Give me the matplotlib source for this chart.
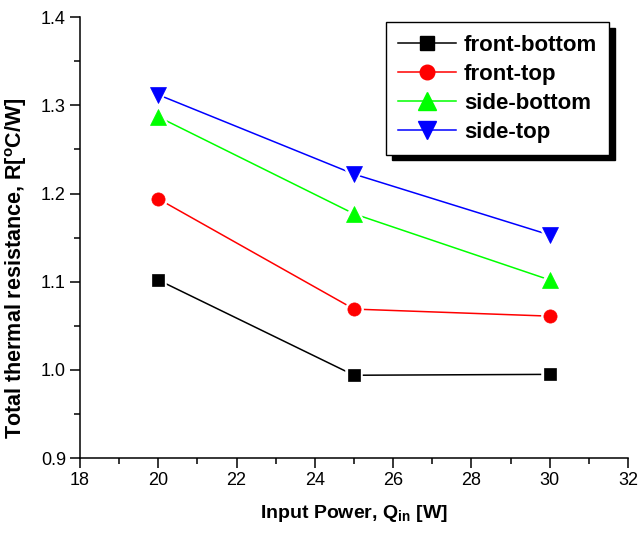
import numpy as np
from matplotlib import pyplot as plt

plt.rcParams['font.family'] = ['Liberation Sans', 'DejaVu Sans']

# input power [W]
power = [20, 25, 30]

# total thermal resistance [C/W]
front_bottom = [1.102, 0.994, 0.995]
front_top = [1.194, 1.069, 1.061]
side_bottom = [1.287, 1.177, 1.102]
side_top = [1.312, 1.222, 1.153]

names = ['front-bottom', 'front-top', 'side-bottom', 'side-top']
colors = ['black', 'red', '#00ff00', 'blue']
markers = ['s', 'o', '^', 'v']
sizes = [9, 9.5, 11.5, 11.5]

fig = plt.figure(figsize=(6.39, 5.34), dpi=100)
ax = fig.add_axes([0.125, 0.142, 0.858, 0.826])

handles = []
for y, name, c, m, ms in zip([front_bottom, front_top, side_bottom, side_top],
                              names, colors, markers, sizes):
    ax.plot(power, y, color=c, lw=1.1, zorder=2)
    # white halo so the line stops short of the marker, like Origin does
    ax.plot(power, y, ls='none', marker=m, ms=ms, mfc='white', mec='white',
            mew=4, zorder=3)
    ax.plot(power, y, ls='none', marker=m, ms=ms, mfc=c, mec=c, mew=0.5,
            zorder=4)
    h, = ax.plot([], [], color=c, lw=1.1, marker=m, ms=ms + 1, mfc=c, mec=c,
                 label=name)
    handles.append(h)

ax.set_xlim(18, 32)
ax.set_ylim(0.9, 1.4)
ax.set_xticks(np.arange(18, 33, 2))
ax.set_xticks(np.arange(19, 32, 2), minor=True)
ax.set_yticks(np.arange(0.9, 1.41, 0.1))
ax.set_yticks(np.arange(0.95, 1.4, 0.1), minor=True)
ax.set_yticklabels(['0.9', '1.0', '1.1', '1.2', '1.3', '1.4'])

ax.spines['top'].set_visible(False)
ax.spines['right'].set_visible(False)
for s in ['left', 'bottom']:
    ax.spines[s].set_linewidth(1.1)
ax.tick_params(which='major', direction='out', length=7, width=1.1,
               labelsize=13, pad=3)
ax.tick_params(which='minor', direction='out', length=4, width=1.1)

ax.set_xlabel('Input Power, Q$_\\mathregular{in}$ [W]', fontsize=14,
              fontweight='bold', labelpad=10)
ax.set_ylabel('Total thermal resistance, R[$^\\mathregular{o}$C/W]',
              fontsize=15.5, fontweight='bold')
ax.yaxis.set_label_coords(-0.093, 0.43)

leg = ax.legend(handles=handles, loc='upper right',
                bbox_to_anchor=(0.986, 1.013), frameon=True, fancybox=False,
                shadow={'color': 'black', 'alpha': 1, 'ox': 4, 'oy': -4},
                edgecolor='black',
                prop={'weight': 'bold', 'size': 16}, handlelength=2.6,
                labelspacing=0.36, borderpad=0.55, handletextpad=0.35)
leg.get_frame().set_linewidth(1.0)

fig.savefig('out.png', dpi=100)
